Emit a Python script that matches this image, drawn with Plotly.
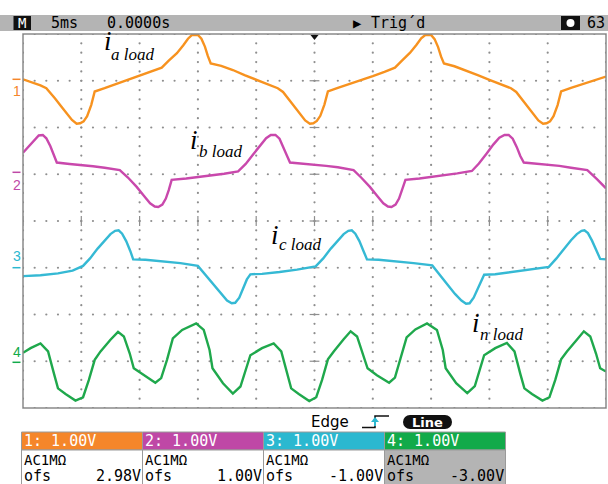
import plotly.graph_objects as go

# ---------------- data (x in divisions 0..10 at 5 ms/div, y in divisions from screen centre) -------------
ch1_t = [0.00,0.15,0.30,0.40,0.46,0.55,0.65,0.75,0.84,0.92,0.98,1.04,1.10,1.17,1.23,1.40,1.60,1.80,2.00,2.20,
         2.38,2.50,2.64,2.75,2.83,2.90,3.00,3.06,3.12,3.17,3.22,3.40,3.60,3.80,4.00,4.20,4.37,
         4.46,4.55,4.65,4.75,4.84,4.92,4.98,5.04,5.10,5.17,5.23,5.40,5.60,5.80,6.00,6.20,6.38,6.50,6.64,6.75,
         6.83,6.90,7.00,7.06,7.12,7.17,7.22,7.40,7.60,7.80,8.00,8.20,8.37,
         8.46,8.55,8.65,8.75,8.84,8.92,8.98,9.04,9.10,9.17,9.23,9.40,9.60,9.80,10.0]
ch1_v = [3.03,2.97,2.90,2.84,2.76,2.62,2.46,2.31,2.16,2.08,2.09,2.13,2.24,2.48,2.77,2.84,2.93,3.01,3.10,3.19,
         3.28,3.43,3.59,3.76,3.90,3.98,3.98,3.90,3.73,3.53,3.37,3.32,3.23,3.12,3.02,2.93,2.84,
         2.76,2.62,2.46,2.31,2.15,2.08,2.09,2.14,2.25,2.49,2.77,2.85,2.93,3.02,3.10,3.19,3.28,3.43,3.60,3.77,
         3.91,3.98,3.98,3.89,3.72,3.52,3.37,3.31,3.22,3.12,3.02,2.93,2.84,
         2.76,2.62,2.46,2.31,2.15,2.08,2.09,2.13,2.24,2.48,2.77,2.85,2.93,3.01,3.09]

ch2_t = [0.00,0.10,0.20,0.27,0.34,0.40,0.47,0.53,0.58,0.80,1.00,1.20,1.40,1.66,1.80,1.95,2.08,2.18,2.26,2.32,
         2.39,2.45,2.50,2.55,2.80,3.00,3.20,3.45,3.69,3.82,3.95,4.07,4.17,4.25,4.33,4.40,4.47,4.53,4.58,
         4.80,5.00,5.20,5.40,5.67,5.80,5.95,6.08,6.18,6.26,6.32,6.39,6.45,6.50,6.56,6.80,7.00,7.20,7.45,7.70,
         7.82,7.95,8.07,8.17,8.26,8.33,8.40,8.47,8.53,8.59,
         8.80,9.00,9.20,9.40,9.68,9.84,10.0]
ch2_v = [1.46,1.60,1.75,1.83,1.84,1.77,1.60,1.40,1.25,1.22,1.20,1.17,1.14,1.09,0.93,0.73,0.53,0.38,0.31,0.30,
         0.35,0.48,0.66,0.88,0.91,0.94,0.97,1.01,1.06,1.22,1.43,1.63,1.77,1.84,1.84,1.76,1.58,1.39,1.25,
         1.23,1.21,1.18,1.15,1.09,0.93,0.73,0.53,0.38,0.31,0.30,0.35,0.48,0.66,0.88,0.91,0.94,0.98,1.02,1.07,
         1.23,1.44,1.64,1.78,1.84,1.84,1.76,1.58,1.39,1.25,
         1.23,1.21,1.18,1.14,1.09,0.90,0.70]

ch3_t = [0.00,0.30,0.60,0.85,1.03,1.15,1.28,1.40,1.50,1.58,1.64,1.70,1.77,1.84,1.89,2.10,2.40,2.70,3.00,3.13,
         3.27,3.40,3.50,3.58,3.64,3.71,3.78,3.84,3.90,4.10,4.40,4.70,5.02,
         5.15,5.28,5.40,5.50,5.58,5.64,5.70,5.77,5.84,5.90,6.10,6.40,6.70,7.02,7.14,7.28,7.41,7.52,7.60,7.66,
         7.73,7.80,7.86,7.91,8.10,8.40,8.70,9.02,
         9.15,9.28,9.40,9.50,9.58,9.63,9.69,9.76,9.83,9.90,10.0]
ch3_v = [-1.18,-1.16,-1.12,-1.06,-0.96,-0.80,-0.59,-0.41,-0.28,-0.21,-0.20,-0.27,-0.43,-0.64,-0.82,-0.83,-0.86,-0.90,-0.96,-1.15,
         -1.36,-1.56,-1.70,-1.76,-1.75,-1.64,-1.45,-1.25,-1.14,-1.13,-1.09,-1.04,-0.97,
         -0.80,-0.59,-0.41,-0.28,-0.21,-0.20,-0.27,-0.43,-0.64,-0.82,-0.83,-0.86,-0.90,-0.95,-1.15,-1.36,-1.56,-1.70,-1.77,-1.76,
         -1.64,-1.45,-1.25,-1.15,-1.14,-1.09,-1.04,-0.98,
         -0.80,-0.59,-0.41,-0.28,-0.21,-0.20,-0.26,-0.42,-0.63,-0.81,-0.82]

ch4_t = [0.00,0.13,0.30,0.43,0.53,0.60,0.73,0.90,1.03,1.13,1.23,1.33,1.50,1.63,1.73,1.83,1.90,2.07,2.27,2.37,
         2.47,2.57,2.73,2.97,3.10,3.20,3.25,3.43,3.60,3.73,3.90,4.10,
         4.30,4.43,4.53,4.60,4.73,4.91,5.03,5.13,5.23,5.33,5.50,5.62,5.73,5.83,5.91,6.07,6.28,6.38,
         6.47,6.58,6.73,6.93,7.10,7.20,7.25,7.43,7.62,7.75,7.91,8.10,
         8.30,8.43,8.53,8.60,8.73,8.91,9.03,9.13,9.23,9.33,9.50,9.62,9.73,9.83,9.90,10.0]
ch4_v = [-2.82,-2.72,-2.62,-2.79,-3.26,-3.58,-3.70,-3.84,-3.77,-3.40,-2.97,-2.79,-2.54,-2.37,-2.47,-2.83,-3.15,-3.29,-3.46,-3.36,
         -2.97,-2.51,-2.33,-2.19,-2.33,-2.76,-3.15,-3.47,-3.69,-3.54,-2.87,-2.72,
         -2.62,-2.79,-3.26,-3.58,-3.70,-3.85,-3.77,-3.40,-2.96,-2.79,-2.53,-2.36,-2.47,-2.84,-3.15,-3.30,-3.46,-3.35,
         -2.97,-2.49,-2.32,-2.19,-2.33,-2.76,-3.15,-3.47,-3.68,-3.53,-2.87,-2.72,
         -2.61,-2.79,-3.27,-3.58,-3.70,-3.84,-3.77,-3.40,-2.96,-2.79,-2.54,-2.36,-2.47,-2.84,-3.15,-3.22]

trace_colors = ["#f7921f", "#c948ac", "#35b9d4", "#1fa84c"]
box_colors = ["#f5862a", "#bf48a6", "#2bb8d0", "#12aa4a"]
channel_labels = ["1: 1.00V", "2: 1.00V", "3: 1.00V", "4: 1.00V"]
coupling_labels = ["AC1MΩ", "AC1MΩ", "AC1MΩ", "AC1MΩ"]
offset_labels = ["2.98V", "1.00V", "-1.00V", "-3.00V"]
wave_names = ["a load", "b load", "c load", "n load"]

# ---------------- geometry ----------------
W, H = 608, 484
L, R, T, B = 23, 2, 34, 76
PW, PH = W - L - R, H - T - B


def px(x):
    return (x - L) / PW


def py(y):
    return (H - B - y) / PH


fig = go.Figure()

# graticule dots
gx, gy = [], []
for r in range(-4, 5):
    for k in range(0, 51):
        gx.append(k / 5); gy.append(r)
for c in range(0, 11):
    for j in range(-20, 21):
        gx.append(c); gy.append(j / 5)
fig.add_trace(go.Scatter(x=gx, y=gy, mode="markers", hoverinfo="skip",
                         marker=dict(size=2.2, color="#8e8e8e", line=dict(width=0)), showlegend=False))
# centre cross ticks
fig.add_trace(go.Scatter(x=[5] * 9, y=list(range(-4, 5)), mode="markers", hoverinfo="skip", showlegend=False,
                         marker=dict(symbol="line-ew", size=7, line=dict(width=1.2, color="#8e8e8e"))))
fig.add_trace(go.Scatter(x=list(range(0, 11)), y=[0] * 11, mode="markers", hoverinfo="skip", showlegend=False,
                         marker=dict(symbol="line-ns", size=7, line=dict(width=1.2, color="#8e8e8e"))))

for t, v, col in [(ch1_t, ch1_v, trace_colors[0]), (ch2_t, ch2_v, trace_colors[1]),
                  (ch3_t, ch3_v, trace_colors[2]), (ch4_t, ch4_v, trace_colors[3])]:
    fig.add_trace(go.Scatter(x=t, y=v, mode="lines", line=dict(color=col, width=2.4),
                             hoverinfo="skip", showlegend=False))

shapes = []
ann = []

# plot border
shapes.append(dict(type="rect", xref="paper", yref="paper", x0=0, x1=1, y0=0, y1=1,
                   line=dict(color="#8a8a8a", width=1.5)))

# header bar
shapes.append(dict(type="rect", xref="paper", yref="paper", x0=px(0), x1=px(W), y0=py(31), y1=py(15),
                   fillcolor="#b4b4b4", line=dict(width=0)))
shapes.append(dict(type="rect", xref="paper", yref="paper", x0=px(13.5), x1=px(31), y0=py(30), y1=py(16),
                   fillcolor="#111111", line=dict(width=0)))
shapes.append(dict(type="rect", xref="paper", yref="paper", x0=px(561), x1=px(580), y0=py(30), y1=py(16),
                   fillcolor="#111111", line=dict(width=0)))
shapes.append(dict(type="circle", xref="paper", yref="paper", x0=px(566.5), x1=px(574.5), y0=py(27), y1=py(19),
                   fillcolor="#ffffff", line=dict(width=0)))

mono = "DejaVu Sans Mono"


def text(x, y, s, size=15, color="#000", xa="left", fam=mono, ya="middle"):
    ann.append(dict(xref="paper", yref="paper", x=px(x), y=py(y), text=s, showarrow=False,
                    xanchor=xa, yanchor=ya, font=dict(family=fam, size=size, color=color), borderpad=0))


text(22.3, 23, "M", 14, "#fff", "center")
text(50, 23, "5ms")
text(106, 23, "0.0000s")
text(352, 23, "▶", 14)
text(370, 23, "Trig´d")
text(586, 23, "63")

# trigger position marker
shapes.append(dict(type="path", xref="paper", yref="paper",
                   path=f"M{px(310.5)},{py(35)} L{px(318.5)},{py(35)} L{px(314.5)},{py(40)} Z",
                   fillcolor="#111", line=dict(width=0)))

# channel ground markers
marker_y = [(79.3, 91.5), (172.3, 185), (267.7, 256), (362.3, 352)]
for i, (ly, ty) in enumerate(marker_y):
    shapes.append(dict(type="line", xref="paper", yref="paper", x0=px(12.5), x1=px(20.5), y0=py(ly), y1=py(ly),
                       line=dict(color=box_colors[i], width=1.5)))
    text(16.8, ty, str(i + 1), 14, box_colors[i], "center", "Liberation Sans")

# waveform labels
lab_pos = [((103, 41), (110, 54)), ((189, 140), (198, 151)), ((270, 235), (278, 244)), ((471, 323), (479, 334))]
for (ip, sp), name in zip(lab_pos, wave_names):
    text(ip[0], ip[1], "<i>i</i>", 27, "#000", "left", "Liberation Serif")
    text(sp[0], sp[1], "<i>" + name + "</i>", 17, "#000", "left", "Liberation Serif")

# trigger info
text(310, 421.5, "Edge", 15, "#000", "left", "DejaVu Sans")
shapes.append(dict(type="path", xref="paper", yref="paper",
                   path=f"M{px(362)},{py(427.5)} L{px(375)},{py(427.5)} L{px(375)},{py(416)} L{px(389)},{py(416)}",
                   line=dict(color="#111", width=1.5)))
shapes.append(dict(type="path", xref="paper", yref="paper",
                   path=f"M{px(371)},{py(422)} L{px(379)},{py(422)} L{px(375)},{py(417)} Z",
                   fillcolor="#2bb8d0", line=dict(width=0)))
shapes.append(dict(type="line", xref="paper", yref="paper", x0=px(375), x1=px(375), y0=py(421), y1=py(426),
                   line=dict(color="#2bb8d0", width=2)))
shapes.append(dict(type="rect", xref="paper", yref="paper", x0=px(410), x1=px(445), y0=py(429), y1=py(415),
                   fillcolor="#111", line=dict(width=0)))
shapes.append(dict(type="circle", xref="paper", yref="paper", x0=px(403), x1=px(417), y0=py(429), y1=py(415),
                   fillcolor="#111", line=dict(width=0)))
shapes.append(dict(type="circle", xref="paper", yref="paper", x0=px(438), x1=px(452), y0=py(429), y1=py(415),
                   fillcolor="#111", line=dict(width=0)))
text(427.5, 422, "<b>Line</b>", 13, "#fff", "center", "DejaVu Sans")

# channel boxes
box_x = [21.5, 142.5, 263.5, 384.5]
bw = 121
for i in range(4):
    x0 = box_x[i]
    shapes.append(dict(type="rect", xref="paper", yref="paper", x0=px(x0), x1=px(x0 + bw), y0=py(450), y1=py(432),
                       fillcolor=box_colors[i], line=dict(color="#9a9a9a", width=1)))
    shapes.append(dict(type="rect", xref="paper", yref="paper", x0=px(x0), x1=px(x0 + bw), y0=py(486), y1=py(450),
                       fillcolor="#b4b4b4" if i == 3 else "#ffffff", line=dict(color="#9a9a9a", width=1)))
    text(x0 + 1.5, 441, channel_labels[i], 15, "#fff")
    text(x0 + 1.5, 460, coupling_labels[i], 14, "#000")
    text(x0 + 1.5, 476, "ofs", 15, "#000")
    text(x0 + bw - 1, 476, offset_labels[i], 15, "#000", "right")

fig.update_layout(
    width=W, height=H,
    margin=dict(l=L, r=R, t=T, b=B),
    paper_bgcolor="#ffffff", plot_bgcolor="#ffffff",
    xaxis=dict(range=[0, 10], showgrid=False, zeroline=False, showticklabels=False, ticks="", fixedrange=True),
    yaxis=dict(range=[-4, 4], showgrid=False, zeroline=False, showticklabels=False, ticks="", fixedrange=True),
    shapes=shapes, annotations=ann, showlegend=False,
)

fig.write_html("out.html", config={"displayModeBar": False},
               post_script="document.body.style.margin='0';document.body.style.overflow='hidden';")
